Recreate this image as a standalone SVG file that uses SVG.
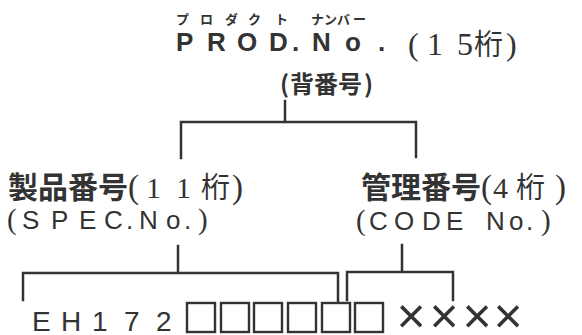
<svg xmlns="http://www.w3.org/2000/svg" width="582" height="335" viewBox="0 0 582 335">
<style>
.ln{stroke:#333;stroke-width:2.5;fill:none;stroke-linecap:square}
.bx{stroke:#333;stroke-width:2.4;fill:none}
.t{fill:#333}
.jb{font-family:"Noto Sans CJK JP",sans-serif;font-weight:700}
.jr{font-family:"Noto Sans CJK JP",sans-serif;font-weight:400}
.sr{font-family:"Liberation Serif","Noto Sans CJK JP",serif}
.ss{font-family:"Liberation Sans",sans-serif}
.sb{font-family:"Liberation Sans",sans-serif;font-weight:700}
</style>
<rect width="582" height="335" fill="#fff"/>
<g id="prod">
<text class="t jb" font-size="13" y="24"><tspan x="176">プ</tspan><tspan x="200">ロ</tspan><tspan x="225">ダ</tspan><tspan x="248">ク</tspan><tspan x="275">ト</tspan><tspan x="311">ナ</tspan><tspan x="324">ン</tspan><tspan x="337">バ</tspan><tspan x="353">ー</tspan></text>
<text class="t sb" font-size="26" y="51"><tspan x="176">P</tspan><tspan x="207">R</tspan><tspan x="237">O</tspan><tspan x="269">D</tspan><tspan x="292">.</tspan><tspan x="312">N</tspan><tspan x="345">o</tspan><tspan x="378">.</tspan></text>
<text class="t sr" font-size="32" y="55"><tspan x="408">(</tspan><tspan x="427">1</tspan><tspan x="457">5</tspan><tspan class="jr" x="474" font-size="29">桁</tspan><tspan x="506">)</tspan></text>
<text class="t jb" font-size="24" y="93"><tspan x="280">(</tspan><tspan x="290">背番号</tspan><tspan x="364">)</tspan></text>
</g>
<g id="spec">
<text class="t" font-size="30" y="198"><tspan class="jb" x="8">製品番号</tspan><tspan class="sr" x="128" font-size="33">(</tspan><tspan class="sr" x="146">1</tspan><tspan class="sr" x="176">1</tspan><tspan class="jr" x="201" font-size="29">桁</tspan><tspan class="sr" x="232" font-size="33">)</tspan></text>
<text class="t ss" font-size="26" y="229"><tspan class="sr" x="7" font-size="29">(</tspan><tspan x="22">S</tspan><tspan x="51">P</tspan><tspan x="79">E</tspan><tspan x="104">C</tspan><tspan x="126">.</tspan><tspan x="139">N</tspan><tspan x="166">o</tspan><tspan x="184">.</tspan><tspan class="sr" x="198" font-size="29">)</tspan></text>
</g>
<g id="code">
<text class="t" font-size="30" y="198"><tspan class="jb" x="361">管理番号</tspan><tspan class="sr" x="481" font-size="33">(</tspan><tspan class="sr" x="493">4</tspan><tspan class="jr" x="516" font-size="29">桁</tspan><tspan class="sr" x="555" font-size="33">)</tspan></text>
<text class="t ss" font-size="26" y="230"><tspan class="sr" x="356" font-size="29">(</tspan><tspan x="369">C</tspan><tspan x="394">O</tspan><tspan x="422">D</tspan><tspan x="446">E</tspan><tspan x="486">N</tspan><tspan x="509">o</tspan><tspan x="526">.</tspan><tspan class="sr" x="541" font-size="29">)</tspan></text>
</g>
<g id="digits">
<text class="t ss" font-size="28" y="331"><tspan x="32">E</tspan><tspan x="61">H</tspan><tspan x="92">1</tspan><tspan x="124">7</tspan><tspan x="156">2</tspan></text>
<rect class="bx" x="187" y="303" width="28" height="29"/>
<rect class="bx" x="221" y="303" width="28" height="29"/>
<rect class="bx" x="254" y="303" width="28" height="29"/>
<rect class="bx" x="288" y="303" width="28" height="29"/>
<rect class="bx" x="322" y="303" width="28" height="29"/>
<rect class="bx" x="355" y="303" width="28" height="29"/>
<text class="t ss" font-size="50" y="333" text-anchor="middle"><tspan x="411">×</tspan><tspan x="444">×</tspan><tspan x="477">×</tspan><tspan x="508">×</tspan></text>
</g>
<g id="connectors">
<path class="ln" d="M285 101V122M181 158V122H416V157"/>
<path class="ln" d="M178 246V273M23 300V273H338V302"/>
<path class="ln" d="M402 245V272M347 300V272H453V300"/>
</g>
</svg>
